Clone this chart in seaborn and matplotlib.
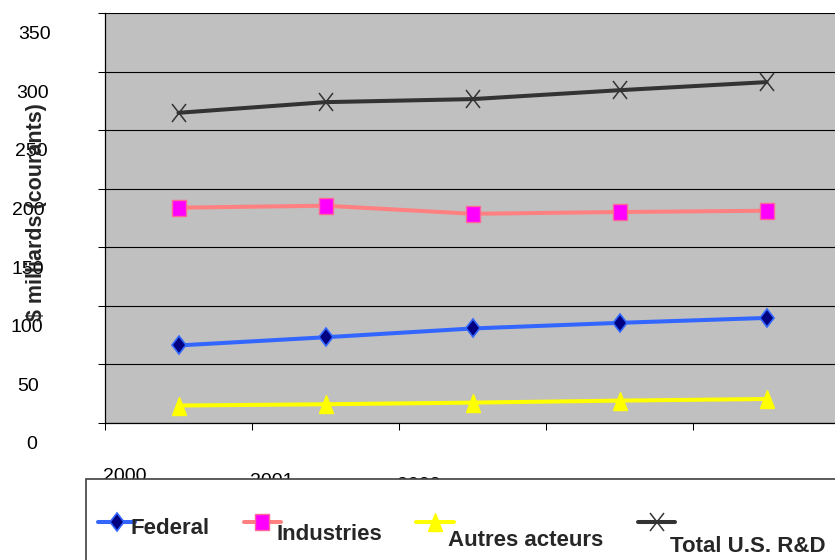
import numpy as np
import pandas as pd
import matplotlib
matplotlib.use("Agg")
import matplotlib.pyplot as plt
import matplotlib.transforms as mtransforms
from matplotlib.markers import MarkerStyle
from matplotlib.patches import Rectangle
import seaborn as sns

# --- data (milliards de dollars courants) ---
years = [2000, 2001, 2002, 2003, 2004]
federal = [66.2, 73.2, 80.7, 85.5, 89.7]
industries = [183.8, 185.5, 178.6, 180.1, 181.2]
autres = [14.9, 16.0, 17.4, 19.1, 20.5]
total = [264.8, 273.9, 276.5, 284.1, 291.0]
series_names = ["Federal", "Industries", "Autres acteurs", "Total U.S. R&D"]
y_ticks = [0, 50, 100, 150, 200, 250, 300, 350]
y_label = "$ milliards (courants)"

df = pd.DataFrame({
    "annee": years * 4,
    "valeur": federal + industries + autres + total,
    "serie": np.repeat(series_names, len(years)),
})

sns.set_style("white")
plt.rcParams["font.family"] = ["Liberation Sans", "DejaVu Sans"]

W, H = 835, 560
fig = plt.figure(figsize=(W / 100, H / 100), dpi=100)
ax = fig.add_axes([105 / W, 137 / H, 735 / W, 410 / H])
ax.set_facecolor("#C0C0C0")


def stretched(m, sx=1.0, sy=1.0):
    return MarkerStyle(m, transform=mtransforms.Affine2D().scale(sx, sy))


styles = {
    "Federal": dict(color="#3366FF", marker=stretched("D", 0.78, 1.0), ms=9.0,
                    mfc="#000080", mec="#3366FF", mew=1.2),
    "Industries": dict(color="#FF8080", marker=stretched("s", 1.0, 1.28), ms=9.4,
                       mfc="#FF00FF", mec="#FF6699", mew=1.0),
    "Autres acteurs": dict(color="#FFFF00", marker=stretched("^", 1.0, 1.28), ms=10.4,
                           mfc="#FFFF00", mec="#FFFF00", mew=1.0),
    "Total U.S. R&D": dict(color="#333333", marker=stretched("x", 1.0, 1.27), ms=10.6,
                           mfc="#333333", mec="#333333", mew=1.1),
}

for name in series_names:
    sub = df[df["serie"] == name]
    st = styles[name]
    sns.lineplot(data=sub, x="annee", y="valeur", ax=ax, label=name,
                 color=st["color"], lw=2.9, marker=st["marker"],
                 markersize=st["ms"], markerfacecolor=st["mfc"],
                 markeredgecolor=st["mec"], markeredgewidth=st["mew"],
                 zorder=3)

if ax.get_legend() is not None:
    ax.get_legend().remove()

ax.set_xlim(years[0] - 0.5, years[-1] + 0.5)
ax.set_ylim(y_ticks[0], y_ticks[-1])
ax.set_xticks([y - 0.5 for y in years] + [years[-1] + 0.5],
              labels=[str(y) for y in years] + [""])
ax.set_yticks(y_ticks, labels=[str(v) for v in y_ticks])
ax.set_xlabel("")
ax.set_ylabel(y_label, fontsize=15.5, fontweight="bold", va="center")
ax.yaxis.set_label_coords((37 - 105) / 735, (423 - 212) / 410)

ax.yaxis.grid(True, color="black", lw=0.8)
ax.xaxis.grid(False)
ax.set_axisbelow(True)
for s in ["top", "right"]:
    ax.spines[s].set_visible(False)
for s in ["left", "bottom"]:
    ax.spines[s].set_color("black")
    ax.spines[s].set_linewidth(0.9)

ax.tick_params(axis="both", direction="out", length=5, width=0.75,
               color="black", labelsize=14, labelcolor="black")
ax.tick_params(axis="y", pad=49, left=True)
ax.tick_params(axis="x", pad=27.4, bottom=True)

# the value labels sit a little below their gridlines, slightly staggered
y_label_shift_x = [2, -2, -3.5, -2, -2, 1, 2.5, 5]
for lab, dx in zip(ax.get_yticklabels(), y_label_shift_x):
    lab.set_horizontalalignment("center")
    lab.set_transform(lab.get_transform() +
                      mtransforms.ScaledTranslation(dx / 100, -19.8 / 100, fig.dpi_scale_trans))
x_steps = [0, 5, 9, 14, 19, 0]
for lab, dy in zip(ax.get_xticklabels(), x_steps):
    lab.set_horizontalalignment("left")
    lab.set_transform(lab.get_transform() +
                      mtransforms.ScaledTranslation(-2 / 100, -dy / 100, fig.dpi_scale_trans))

# legend box at the bottom
fig.add_artist(Rectangle((86 / W, -0.1), 1.2, (1 - 479 / H) + 0.1,
                         transform=fig.transFigure, facecolor="white",
                         edgecolor="#404040", lw=1.2, zorder=4))
handles, labels = ax.get_legend_handles_labels()
leg = fig.legend(handles, labels, loc="center left",
                 bbox_to_anchor=(98 / W, 1 - 524 / H), ncol=4, frameon=False,
                 prop=dict(size=16, weight="bold"), handlelength=1.68,
                 handletextpad=-0.23, columnspacing=1.55, borderpad=0,
                 borderaxespad=0)
leg.set_zorder(5)
for txt, dy in zip(leg.get_texts(), [4, 11, 16, 23]):
    txt.set_transform(txt.get_transform() +
                      mtransforms.ScaledTranslation(0, -dy / 100, fig.dpi_scale_trans))

fig.savefig("out.png", dpi=100)
